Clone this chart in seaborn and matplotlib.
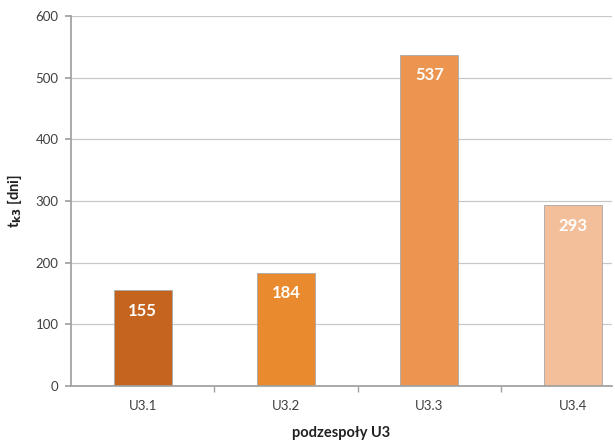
import matplotlib
matplotlib.use("Agg")
import matplotlib.pyplot as plt
import seaborn as sns
import pandas as pd

# data
categories = ["U3.1", "U3.2", "U3.3", "U3.4"]
values = [155, 184, 537, 293]
bar_colors = ["#c4641f", "#ea8a2e", "#eb9550", "#f2bf9a"]

sns.set_theme(style="white")
plt.rcParams["font.family"] = ["Lato", "DejaVu Sans"]

df = pd.DataFrame({"podzespol": categories, "t": values})

fig = plt.figure(figsize=(6.15, 4.45), dpi=100)
ax = fig.add_axes([71 / 615, (445 - 386) / 445, (612 - 71) / 615, 370 / 445])

sns.barplot(data=df, x="podzespol", y="t", hue="podzespol", palette=bar_colors,
            saturation=1, legend=False, width=0.405, edgecolor="#a8a8a8",
            linewidth=0.6, ax=ax)

# white value labels inside the top of each bar
for i, v in enumerate(values):
    ax.text(i, v - 33, str(v), ha="center", va="center", color="white",
            fontsize=12, fontweight="bold")

ax.set_ylim(0, 600)
ax.set_xlim(-0.5, 3.275)
ax.set_yticks(range(0, 601, 100))
ax.yaxis.grid(True, color="#c8c8c8", linewidth=0.9)
ax.set_axisbelow(True)

for s in ["top", "right"]:
    ax.spines[s].set_visible(False)
ax.spines["left"].set_color("#a0a0a0")
ax.spines["bottom"].set_color("#a0a0a0")

# tick marks between categories on x, outward ticks on y
ax.set_xticks([0, 1, 2, 3])
ax.set_xticks([0.5, 1.5, 2.5], minor=True)
ax.tick_params(axis="x", which="major", length=0, pad=10, labelsize=9.5, labelcolor="#404040")
ax.tick_params(axis="x", which="minor", direction="out", length=4, color="#a0a0a0", bottom=True)
ax.tick_params(axis="y", direction="out", length=4, color="#a0a0a0", left=True,
               labelsize=9.5, labelcolor="#404040", pad=5)

ax.set_xlabel("podzespoły U3", fontsize=10.5, fontweight="bold", color="#202020", labelpad=10)
ax.set_ylabel(r"t$_{\mathbf{k3}}$ [dni]", fontsize=10.5, fontweight="bold", color="#202020", labelpad=8)

fig.savefig("out.png", dpi=100)
